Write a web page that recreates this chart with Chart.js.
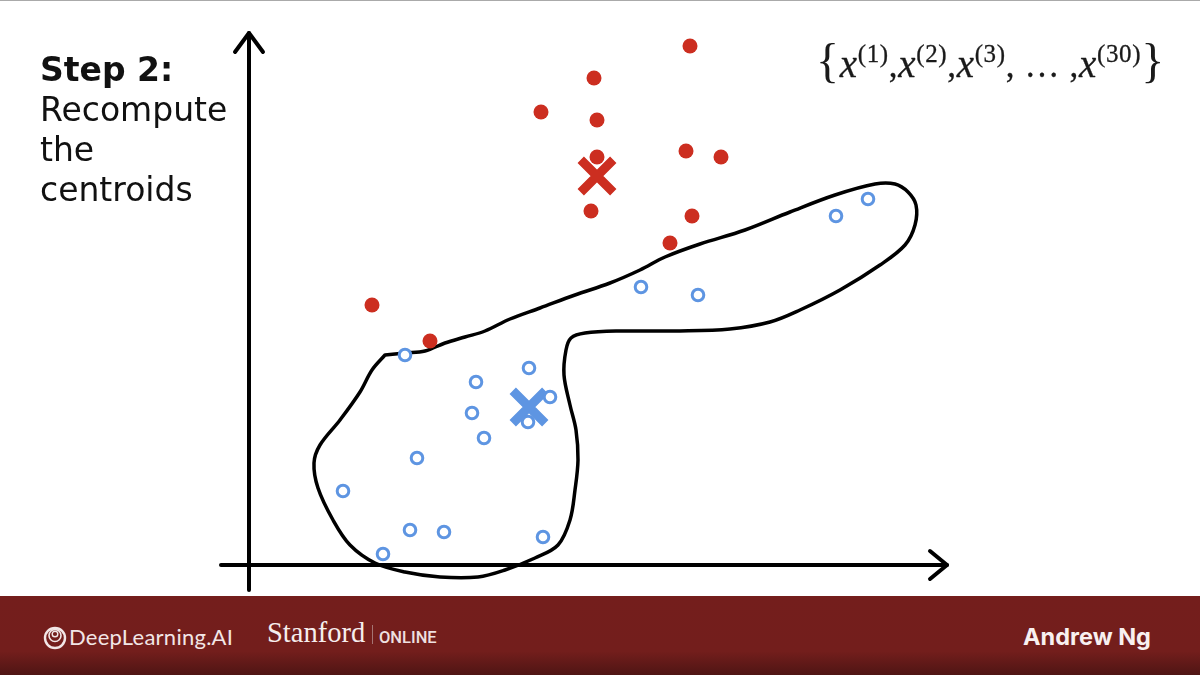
<!DOCTYPE html>
<html>
<head>
<meta charset="utf-8">
<script src="https://cdn.jsdelivr.net/npm/chart.js@4"></script>
<style>
html,body{margin:0;padding:0;background:#fff;}
#wrap{position:relative;width:1200px;height:675px;overflow:hidden;background:#fff;}
#c{position:absolute;left:0;top:0;}
.t{position:absolute;white-space:nowrap;}
#topline{position:absolute;left:0;top:0;width:1200px;height:1px;background:#aaa;}
#title{left:40px;top:50px;font:33px/40px "DejaVu Sans";color:#111;}
#title b{font-weight:bold;}
#math{left:816px;top:33px;font:35px "Liberation Serif";color:#1a1a1a;-webkit-text-stroke:.3px #1a1a1a;letter-spacing:.65px;}
#math i{font-style:italic;font-size:39px;}
#math sup{font-size:25px;line-height:0;position:relative;vertical-align:baseline;top:-15px;}
#math .br{font-size:48px;font-weight:normal;-webkit-text-stroke:0;}
#band{position:absolute;left:0;top:596px;width:1200px;height:79px;background:linear-gradient(#741e1c 0,#731e1c 70%,#4f1514 100%);}
#dl{left:69px;top:27px;font:400 22px "Lato";color:#f2e6e6;letter-spacing:.25px;}
#st{left:267px;top:21px;font:28.5px "Liberation Serif";color:#f6eeee;}
#sep{position:absolute;left:372px;top:29px;width:1px;height:19px;background:#a57473;}
#on{left:379px;top:32px;font:500 16.5px "Roboto";color:#eee0e0;}
#ng{left:1023px;top:26px;font:700 23.5px "Inter";color:#f8f0f0;}
#logo{position:absolute;left:43px;top:30px;}
</style>
</head>
<body>
<div id="wrap">
<canvas id="c" width="1200" height="675"></canvas>
<div id="topline"></div>
<div class="t" id="title"><b>Step 2:</b><br>Recompute<br>the<br>centroids</div>
<div class="t" id="math"><span class="br">{</span><i>x</i><sup>(1)</sup>,<i>x</i><sup>(2)</sup>,<i>x</i><sup>(3)</sup>, … ,<i>x</i><sup>(30)</sup><span class="br">}</span></div>
<div id="band">
<svg id="logo" width="24" height="24" viewBox="0 0 24 24" fill="none" stroke="#f2e6e6">
<circle cx="12" cy="12" r="10" stroke-width="2.4"/><circle cx="12" cy="9.5" r="6" stroke-width="1.6"/><circle cx="12" cy="8" r="2.8" stroke-width="1.4"/>
</svg>
<div class="t" id="dl">DeepLearning.AI</div>
<div class="t" id="st">Stanford</div>
<div id="sep"></div>
<div class="t" id="on">ONLINE</div>
<div class="t" id="ng">Andrew Ng</div>
</div>
</div>
<script>
const redX = [441,345,292,348,348,437,472,342,443,421,123,181];
const redY = [519,487,453,445,408,414,408,354,349,322,260,224];
const blueX = [619,587,392,449,156,280,227,301,223,279,235,168,94,161,195,294,134];
const blueY = [366,349,278,270,210,197,183,168,152,143,127,107,74,35,33,28,11];
const redCentroidX = [348];
const redCentroidY = [389];
const blueCentroidX = [280];
const blueCentroidY = [158];
const outlineX = [136,156,176,196,216,236,261,291,326,361,391,416,451,496,541,586,626,646,659,667,666,656,631,591,551,521,481,431,371,336,322,317,315,321,327,329,326,321,309,286,256,229,191,156,126,101,84,69,65,71,91,111,123,136];
const outlineY = [210,212,214,222,228,234,246,257,270,282,295,308,321,335,353,370,381,381,373,360,340,320,300,275,255,243,236,234,234,232,227,215,190,160,135,105,75,45,20,7,-5,-12,-12,-7,2,20,45,77,102,120,145,173,195,210];
const xAxisX = [-28,698];
const xAxisY = [0,0];
const xHeadX = [681,698,681];
const xHeadY = [14,0,-14];
const yAxisX = [0,0];
const yAxisY = [-25,532];
const yHeadX = [-14,0,14];
const yHeadY = [513,532,513];

const pts = (xs, ys) => xs.map((x, i) => ({x, y: ys[i]}));
const line = (xs, ys, w, tension, order) => ({
  data: pts(xs, ys), showLine: true, pointRadius: 0, borderColor: '#000', borderWidth: w,
  tension, borderCapStyle: 'round', borderJoinStyle: 'round', order
});
new Chart(document.getElementById('c'), {
  type: 'scatter',
  data: { datasets: [
    line(outlineX, outlineY, 3.5, 0.35, 6),
    line(xAxisX, xAxisY, 4, 0, 5),
    line(xHeadX, xHeadY, 4, 0, 5),
    line(yAxisX, yAxisY, 4, 0, 5),
    line(yHeadX, yHeadY, 4, 0, 5),
    { data: pts(redCentroidX, redCentroidY), pointStyle: 'crossRot', pointRadius: 23, borderColor: '#cc2e20', pointBorderWidth: 9, order: 3 },
    { data: pts(blueCentroidX, blueCentroidY), pointStyle: 'crossRot', pointRadius: 23, borderColor: '#5e95e2', pointBorderWidth: 9, order: 3 },
    { data: pts(redX, redY), pointStyle: 'circle', pointRadius: 7.5, backgroundColor: '#cc2e20', borderColor: '#cc2e20', pointBorderWidth: 0, order: 2 },
    { data: pts(blueX, blueY), pointStyle: 'circle', pointRadius: 5.8, backgroundColor: '#fff', borderColor: '#5e95e2', pointBorderWidth: 3, order: 1 }
  ]},
  options: {
    responsive: false, animation: false, devicePixelRatio: 1,
    layout: { padding: 0, autoPadding: false },
    plugins: { legend: { display: false }, tooltip: { enabled: false }, title: { display: false } },
    scales: {
      x: { type: 'linear', min: -249, max: 951, display: false },
      y: { type: 'linear', min: -110, max: 565, display: false }
    }
  }
});
</script>
</body>
</html>
